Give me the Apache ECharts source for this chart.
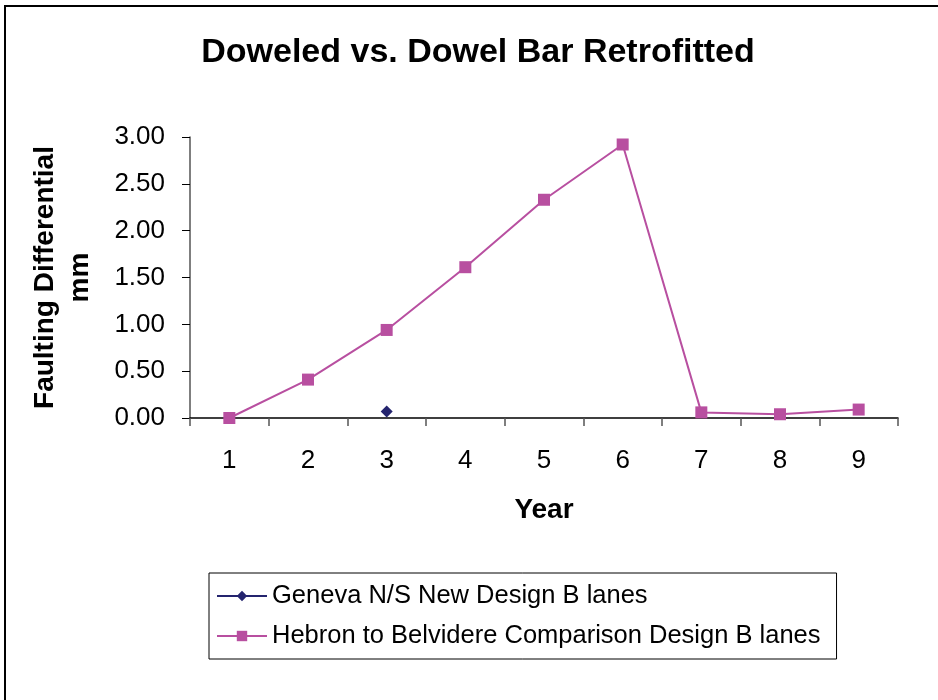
<!DOCTYPE html>
<html>
<head>
<meta charset="utf-8">
<script src="https://cdn.jsdelivr.net/npm/echarts@6/dist/echarts.min.js"></script>
<style>
  html, body { margin: 0; padding: 0; background: #fff; }
  #chart { width: 938px; height: 700px; }
</style>
</head>
<body>
<div id="chart"></div>
<script>
  // years on x axis
  var years = ['1', '2', '3', '4', '5', '6', '7', '8', '9'];
  // faulting differential, mm
  var geneva = [null, null, 0.07, null, null, null, null, null, null];
  var hebron = [0.00, 0.41, 0.94, 1.61, 2.33, 2.92, 0.06, 0.04, 0.09];
  var seriesNames = ['Geneva N/S New Design B lanes', 'Hebron to Belvidere Comparison Design B lanes'];

  var font = '"Liberation Sans", Arial, sans-serif';
  var chart = echarts.init(document.getElementById('chart'));

  var option = {
    animation: false,
    backgroundColor: '#fff',
    title: {
      text: 'Doweled vs. Dowel Bar Retrofitted',
      left: 473,
      top: 31,
      textAlign: 'center',
      textStyle: { fontFamily: font, fontSize: 34, fontWeight: 'bold', color: '#000' }
    },
    legend: {
      orient: 'vertical',
      left: 209,
      top: 573,
      padding: [10, 16, 10, 7],
      borderColor: '#000',
      borderWidth: 1,
      itemWidth: 50,
      itemHeight: 13,
      itemGap: 14,
      data: seriesNames,
      textStyle: { fontFamily: font, fontSize: 25.5, color: '#000' }
    },
    grid: {
      left: 190,
      right: 40,
      top: 137,
      bottom: 282,
      outerBoundsMode: 'none'
    },
    xAxis: {
      type: 'category',
      data: years,
      name: 'Year',
      nameLocation: 'middle',
      nameGap: 78,
      nameTextStyle: { fontFamily: font, fontSize: 28, fontWeight: 'bold', color: '#000' },
      axisLine: { lineStyle: { color: '#000', width: 1.5 } },
      axisTick: { show: true, interval: 0, length: 8, lineStyle: { color: '#555', width: 1.5 } },
      axisLabel: { fontFamily: font, fontSize: 26, color: '#000', margin: 30 },
      splitLine: { show: false }
    },
    yAxis: {
      type: 'value',
      min: 0,
      max: 3,
      interval: 0.5,
      name: 'Faulting Differential\nmm',
      nameLocation: 'middle',
      nameGap: 92,
      nameRotate: 90,
      nameTextStyle: { fontFamily: font, fontSize: 28, fontWeight: 'bold', color: '#000', lineHeight: 35 },
      axisLine: { show: true, lineStyle: { color: '#555', width: 1.5 } },
      axisTick: { show: true, length: 8, lineStyle: { color: '#000', width: 1 } },
      axisLabel: {
        fontFamily: font, fontSize: 26, color: '#000', margin: 25,
        formatter: function (v) { return v.toFixed(2); }
      },
      splitLine: { show: false }
    },
    series: [
      {
        name: seriesNames[0],
        type: 'line',
        data: geneva,
        symbol: 'diamond',
        symbolSize: 12,
        color: '#24246e',
        lineStyle: { width: 2, color: '#24246e' },
        itemStyle: { color: '#24246e' }
      },
      {
        name: seriesNames[1],
        type: 'line',
        data: hebron,
        symbol: 'rect',
        symbolSize: 12,
        color: '#b84fa0',
        lineStyle: { width: 2, color: '#b84fa0' },
        itemStyle: { color: '#b84fa0' }
      }
    ],
    graphic: [
      {
        type: 'rect',
        shape: { x: 5, y: 6, width: 1000, height: 1000 },
        style: { fill: 'none', stroke: '#000', lineWidth: 2 },
        silent: true
      }
    ]
  };

  chart.setOption(option);
</script>
</body>
</html>
